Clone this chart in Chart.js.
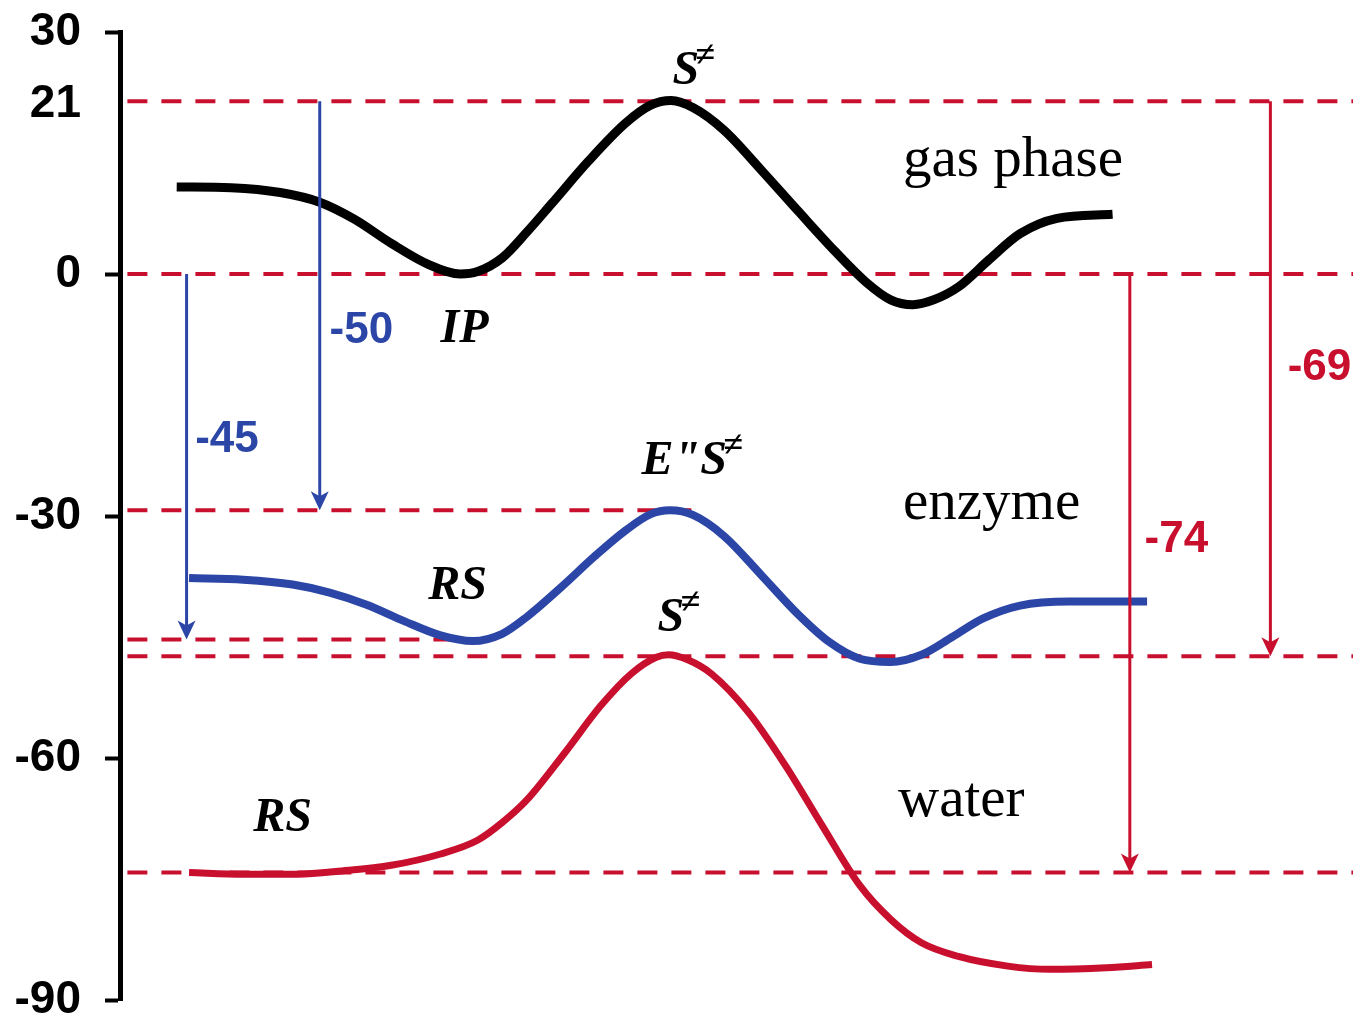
<!DOCTYPE html>
<html>
<head>
<meta charset="utf-8">
<script src="https://cdn.jsdelivr.net/npm/chart.js@4/dist/chart.umd.min.js"></script>
<style>
html,body{margin:0;padding:0;background:#ffffff;}
#wrap{width:1353px;height:1023px;position:relative;}
</style>
</head>
<body>
<div id="wrap"><canvas id="c"></canvas></div>
<script>
// ---- tick labels of the energy axis ----
const yTicks = [30, 21, 0, -30, -60, -90];

// ---- energy profiles (reaction coordinate 0..100, energy) ----
const gasX = [4.6, 9, 13, 16.2, 19, 22, 25, 27.6, 29, 31, 33, 35, 38, 41, 43, 44.7, 46.5, 49, 52, 55, 58, 60.5, 62.5, 64.3, 66, 68, 70.5, 73, 76, 80.5];
const gasY = [10.8, 10.7, 10.1, 8.9, 6.8, 3.8, 1.2, 0.0, 0.3, 2.0, 5.2, 8.7, 14.0, 18.7, 20.9, 21.5, 20.6, 17.8, 12.9, 7.8, 2.8, -1.0, -3.2, -3.8, -3.2, -1.6, 1.8, 5.0, 6.9, 7.4];

const enzX = [5.6, 10, 14, 17, 20, 23, 26, 28.6, 31, 33, 35.8, 38.5, 41, 43, 44.6, 46.5, 49, 52, 55, 57.5, 60, 62.5, 65, 67.5, 70, 73, 77, 83.3];
const enzY = [-37.7, -37.9, -38.5, -39.5, -41.0, -43.0, -44.8, -45.5, -44.6, -42.5, -38.8, -35.0, -31.8, -29.8, -29.3, -29.9, -32.5, -37.3, -42.2, -45.6, -47.7, -48.1, -47.2, -45.0, -42.7, -41.1, -40.6, -40.6];

const watX = [5.6, 10, 14.4, 18, 22, 26, 29, 31, 33, 36, 39, 41.5, 43.5, 44.5, 46, 48, 51, 54, 57, 60, 62.5, 65, 68, 72, 75.4, 80, 83.7];
const watY = [-74.2, -74.4, -74.4, -74.0, -73.3, -71.9, -70.2, -68.0, -65.2, -59.5, -53.5, -49.5, -47.5, -47.2, -47.8, -49.6, -54.4, -61.0, -68.5, -75.8, -80.0, -82.9, -84.6, -85.8, -86.2, -86.0, -85.6];

// ---- dashed reference levels ----
const levelY    = [21.4, 0, -29.3, -45.3, -47.4, -74.2];
const levelFrom = [0.6, 0.6, 0.6, 0.6, 0.6, 0.6];
const levelTo   = [100, 100, 46.5, 29.0, 100, 100];

// ---- energy-difference arrows ----
const arrowX     = [16.2, 5.4, 81.9, 93.3];
const arrowFrom  = [21.4, 0, 0, 21.4];
const arrowTo    = [-29.3, -45.3, -74.2, -47.4];
const arrowText  = ['-50', '-45', '-74', '-69'];
const arrowTextX = [17.0, 6.1, 83.1, 94.7];
const arrowTextY = [-7.1, -20.5, -33.0, -11.6];
const arrowColor = ['#2b46a6', '#2b46a6', '#c8102e', '#c8102e'];

// ---- text labels ----
const phaseText = ['gas phase', 'enzyme', 'water'];
const phaseX    = [63.5, 63.5, 63.1];
const phaseY    = [12.1, -30.4, -67.2];

const specText = ['S', 'IP', 'E"S', 'S', 'RS', 'RS'];
const specSup  = ['\u2260', '', '\u2260', '\u2260', '', ''];
const specX    = [44.8, 26.0, 42.3, 43.6, 25.0, 10.8];
const specY    = [23.5, -8.4, -24.8, -44.3, -40.3, -69.1];

const RED = '#c8102e';
const BLUE = '#2b46a6';

function pts(xs, ys){ return xs.map((v,i)=>({x:v, y:ys[i]})); }

const datasets = [
  {data: pts(gasX, gasY), borderColor:'#000000', borderWidth:9, cubicInterpolationMode:'monotone', pointRadius:0, order:1},
  {data: pts(enzX, enzY), borderColor:BLUE, borderWidth:8, cubicInterpolationMode:'monotone', pointRadius:0, order:1},
  {data: pts(watX, watY), borderColor:RED, borderWidth:7, cubicInterpolationMode:'monotone', pointRadius:0, order:1}
];
levelY.forEach((lv,i)=>{
  datasets.push({data:[{x:levelFrom[i], y:lv},{x:levelTo[i], y:lv}], borderColor:RED, borderWidth:4,
    borderDash:[20,14], pointRadius:0, tension:0, order:5});
});

const annot = {
  id:'annot',
  afterDatasetsDraw(chart){
    const {ctx, scales:{x, y}} = chart;
    ctx.save();
    // arrows
    arrowX.forEach((ax,i)=>{
      const px = x.getPixelForValue(ax);
      const y1 = y.getPixelForValue(arrowFrom[i]);
      const y2 = y.getPixelForValue(arrowTo[i]);
      ctx.strokeStyle = arrowColor[i];
      ctx.fillStyle = arrowColor[i];
      ctx.lineWidth = 3;
      ctx.beginPath(); ctx.moveTo(px, y1); ctx.lineTo(px, y2 - 12); ctx.stroke();
      ctx.beginPath();
      ctx.moveTo(px - 9, y2 - 19);
      ctx.lineTo(px, y2 - 14);
      ctx.lineTo(px + 9, y2 - 19);
      ctx.lineTo(px, y2);
      ctx.closePath(); ctx.fill();
      ctx.font = 'bold 44px "Liberation Sans", Arial, sans-serif';
      ctx.textAlign = 'left'; ctx.textBaseline = 'middle';
      ctx.fillText(arrowText[i], x.getPixelForValue(arrowTextX[i]), y.getPixelForValue(arrowTextY[i]));
    });
    // phase names
    ctx.fillStyle = '#000';
    ctx.font = '57px "Liberation Serif", "Times New Roman", serif';
    ctx.textAlign = 'left'; ctx.textBaseline = 'alphabetic';
    phaseText.forEach((t,i)=>{
      ctx.fillText(t, x.getPixelForValue(phaseX[i]), y.getPixelForValue(phaseY[i]));
    });
    // species labels
    specText.forEach((t,i)=>{
      const px = x.getPixelForValue(specX[i]);
      const py = y.getPixelForValue(specY[i]);
      ctx.font = 'italic bold 48px "Liberation Serif", "Times New Roman", serif';
      ctx.fillText(t, px, py);
      if (specSup[i]) {
        const w = ctx.measureText(t).width;
        ctx.font = 'italic bold 36px "Liberation Serif", "DejaVu Serif", serif';
        ctx.fillText(specSup[i], px + w - 4, py - 18);
      }
    });
    ctx.restore();
  }
};

new Chart(document.getElementById('c'), {
  type:'line',
  data:{datasets},
  options:{
    responsive:true,
    maintainAspectRatio:false,
    animation:false,
    layout:{padding:{top:32, bottom:23, left:0, right:0}},
    plugins:{legend:{display:false}, tooltip:{enabled:false}},
    elements:{line:{fill:false, borderCapStyle:'butt', borderJoinStyle:'round'}},
    scales:{
      x:{type:'linear', min:0, max:100, display:false},
      y:{
        type:'linear', min:-90, max:30,
        afterBuildTicks(scale){ scale.ticks = yTicks.map(v=>({value:v})); },
        afterFit(scale){ scale.width = 120; scale.paddingTop = 0; scale.paddingBottom = 0; },
        border:{display:true, color:'#000', width:5},
        grid:{display:true, drawOnChartArea:false, drawTicks:true, tickLength:15, tickWidth:4,
          tickColor:(c)=> (c.tick && c.tick.value === 21) ? 'rgba(0,0,0,0)' : '#000'},
        ticks:{color:'#000', padding:24, font:{family:'"Liberation Sans", Arial, sans-serif', size:46, weight:'bold'},
          callback:(v)=>String(v)}
      }
    }
  },
  plugins:[annot]
});
</script>
</body>
</html>
